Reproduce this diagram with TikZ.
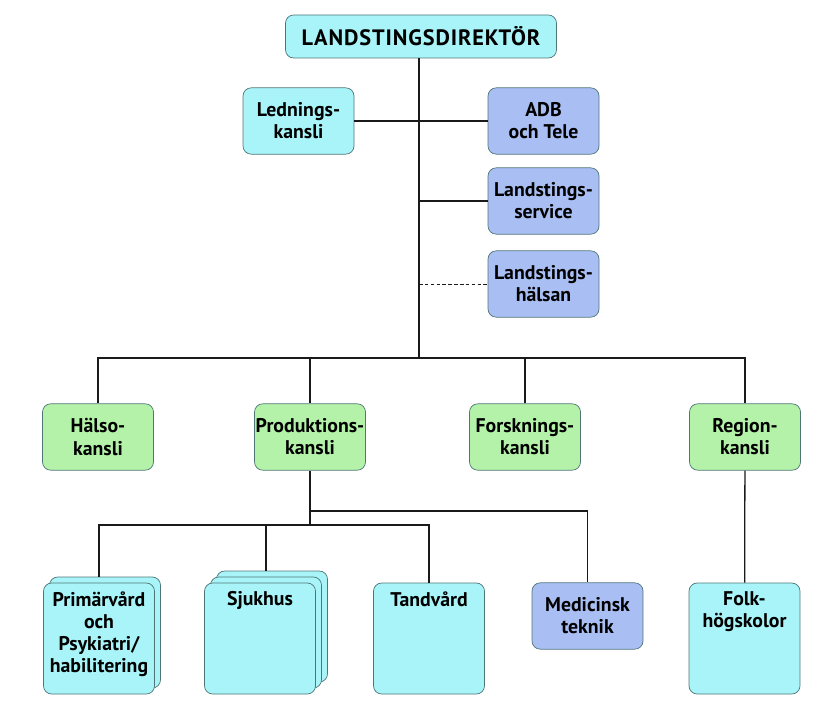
\documentclass[tikz,border=0pt]{standalone}
\usepackage{fontspec}
\setmainfont{PT Sans}
\definecolor{CyaFill}{HTML}{A8F4F8}
\definecolor{BluFill}{HTML}{A9BFF4}
\definecolor{GrnFill}{HTML}{B3F2A8}
\definecolor{BoxBord}{HTML}{4E7677}
\definecolor{LineCol}{HTML}{1A1A1A}
\tikzset{
  every picture/.append style={font=\fontsize{16.9}{18.8}\selectfont\bfseries},
  blk/.style={rectangle, rounded corners=7pt, draw=BoxBord, line width=0.6pt, align=center,
              inner sep=0pt, minimum width=3.33cm, minimum height=1.99cm},
  cya/.style={blk, fill=CyaFill},
  blu/.style={blk, fill=BluFill},
  grn/.style={blk, fill=GrnFill},
  tall/.style={minimum height=3.33cm},
  conn/.style={line width=1.1pt, draw=LineCol},
  dsh/.style={line width=0.8pt, draw=LineCol, dash pattern=on 3pt off 2pt},
}
\newcommand{\toptext}[1]{\parbox[t][2.8cm][t]{3.3cm}{\centering #1}}

\begin{document}
\begin{tikzpicture}[x=0.03cm,y=-0.03cm]
\useasboundingbox (0,0) rectangle (822,712);

% ---------------- top level -------------------------------------------------------
\node[cya, minimum width=8.13cm, minimum height=1.29cm,
      font=\fontsize{19}{21}\selectfont\bfseries\addfontfeature{LetterSpace=4}] (dir) at (421,36.5) {LANDSTINGSDIREKTÖR};
\node[cya] (led) at (298.5,121) {Lednings-\\kansli};
\node[blu] (adb) at (543.5,121) {ADB\\och Tele};
\node[blu] (lser) at (543.5,201) {Landstings-\\service};
\node[blu] (lhal) at (543.5,284) {Landstings-\\hälsan};

\coordinate (bus) at (419,358);
\draw[conn] (dir.south -| bus) -- (bus);
\draw[conn] (led) -- (adb);
\draw[conn] (lser.west -| bus) -- (lser);
\draw[dsh] (lhal.west -| bus) -- (lhal);

% ---------------- kansli row ------------------------------------------------------
\node[grn] (hk) at (98,437) {Hälso-\\kansli};
\node[grn] (pk) at (310,437) {Produktions-\\kansli};
\node[grn] (fk) at (525,437) {Forsknings-\\kansli};
\node[grn] (rk) at (745,437) {Region-\\kansli};
\draw[conn] (hk) -- (hk |- bus) -- (rk |- bus) -- (rk);
\draw[conn] (pk) -- (pk |- bus);
\draw[conn] (fk) -- (fk |- bus);

% ---------------- production units ------------------------------------------------
\node[cya, tall] (prim2) at (105,632.5) {};
\node[cya, tall] (sjuk3) at (272,626.5) {};
\node[cya, tall] (sjuk2) at (266,632.5) {};
\node[cya, tall] (prim) at (99,638.5) {\toptext{Primärvård\\och\\Psykiatri/\\habilitering}};
\node[cya, tall] (sjuk) at (260,638.5) {\toptext{Sjukhus}};
\node[cya, tall] (tand) at (429,638.5) {\toptext{Tandvård}};
\node[blu] (med) at (587.5,616) {Medicinsk\\teknik};
\node[cya, tall] (folk) at (744.5,638.5) {\toptext{Folk-\\högskolor}};

\coordinate (pb1) at (310,511);
\coordinate (pb2) at (310,525);
\draw[conn] (pk) -- (pb2);
\draw[conn] (pb1) -| (med);
\draw[conn] (pb2) -| (prim.north |- prim2.north);
\draw[conn] (pb2) -| (sjuk2.north |- sjuk3.north);
\draw[conn] (pb2) -| (tand);
\draw[conn] (rk) -- (folk);

\end{tikzpicture}
\end{document}
